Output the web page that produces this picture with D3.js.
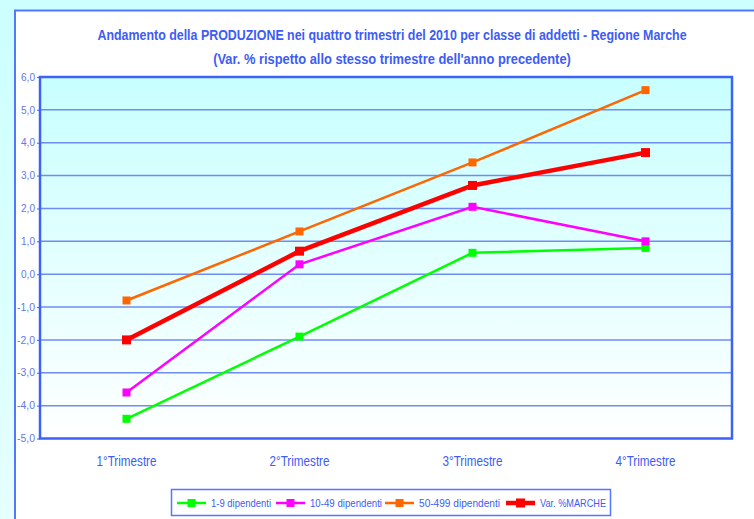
<!DOCTYPE html>
<meta charset="utf-8">
<style>
body { margin: 0; background: linear-gradient(#ccffff, #e6ffff); }
svg { display: block; }
text { font-family: "Liberation Sans", Arial, sans-serif; fill: #3d5cf5; }
.title { font-weight: bold; font-size: 14px; }
.ytick { font-size: 10px; fill: #6577e8; }
.xlab { font-size: 14.5px; }
.leg { font-size: 10.5px; }
</style>
<svg width="754" height="519"></svg>
<script src="https://d3js.org/d3.v7.min.js"></script>
<script>

var quarters = ["1°Trimestre", "2°Trimestre", "3°Trimestre", "4°Trimestre"];
var dip1_9 = [-4.4, -1.9, 0.65, 0.8];
var dip10_49 = [-3.6, 0.3, 2.05, 1.0];
var dip50_499 = [-0.8, 1.3, 3.4, 5.6];
var marche = [-2.0, 0.7, 2.7, 3.7];
var yTicks = [-5, -4, -3, -2, -1, 0, 1, 2, 3, 4, 5, 6];

var series = [
  { name: "1-9 dipendenti", values: dip1_9, color: "#00ff00", w: 2.5, m: 8, tw: 60 },
  { name: "10-49 dipendenti", values: dip10_49, color: "#ff00ff", w: 2.5, m: 8, tw: 72 },
  { name: "50-499 dipendenti", values: dip50_499, color: "#ff6600", w: 2.5, m: 8, tw: 81 },
  { name: "Var. %MARCHE", values: marche, color: "#ff0000", w: 4.5, m: 9, tw: 66 }
];

var svg = d3.select("svg");
var mLeft = 40, mRight = 732, mTop = 77, mBottom = 438.5;

// squeeze a text horizontally to a given width (narrow font look)
function squeeze(sel, cx, cy, w) {
  sel.attr("text-anchor", "middle");
  var natural = sel.node().getComputedTextLength();
  sel.attr("transform", "translate(" + cx + "," + cy + ") scale(" + (w / natural) + ",1)");
}

// outer white panel
svg.append("rect")
    .attr("x", 15).attr("y", 10.5)
    .attr("width", 760).attr("height", 530)
    .attr("fill", "#fff")
    .attr("stroke", "#5577ff").attr("stroke-width", 2);

svg.append("text").attr("class", "title")
    .text("Andamento della PRODUZIONE nei quattro trimestri del 2010 per classe di addetti - Regione Marche")
    .call(squeeze, 392, 40, 590);
svg.append("text").attr("class", "title")
    .text("(Var. % rispetto allo stesso trimestre dell'anno precedente)")
    .call(squeeze, 392, 64, 358);

var x = d3.scaleBand().domain(quarters).range([mLeft, mRight]);
var y = d3.scaleLinear().domain([-5, 6]).range([mBottom, mTop]);

var grad = svg.append("defs").append("linearGradient")
    .attr("id", "bg").attr("x1", 0).attr("y1", 0).attr("x2", 0).attr("y2", 1);
grad.append("stop").attr("offset", "0%").attr("stop-color", "#c8ffff");
grad.append("stop").attr("offset", "100%").attr("stop-color", "#ffffff");

svg.append("rect")
    .attr("x", mLeft).attr("y", mTop)
    .attr("width", mRight - mLeft).attr("height", mBottom - mTop)
    .attr("fill", "url(#bg)");

// gridlines
svg.append("g").selectAll("line")
  .data(yTicks.filter(function(d) { return d > -5 && d < 6; }))
  .join("line")
    .attr("x1", mLeft).attr("x2", mRight)
    .attr("y1", function(d) { return y(d); })
    .attr("y2", function(d) { return y(d); })
    .attr("stroke", "#6f8cf5").attr("stroke-width", 1.5);

svg.append("rect")
    .attr("x", mLeft).attr("y", mTop)
    .attr("width", mRight - mLeft).attr("height", mBottom - mTop)
    .attr("fill", "none")
    .attr("stroke", "#3d62f5").attr("stroke-width", 2.5);

// y axis
var yAxis = svg.append("g")
    .attr("transform", "translate(" + mLeft + ",0)")
    .call(d3.axisLeft(y).tickValues(yTicks).tickSize(3).tickPadding(2)
      .tickFormat(function(d) { return d3.format(".1f")(d).replace(".", ",").replace("−", "-"); }));
yAxis.select(".domain").remove();
yAxis.selectAll("line").attr("stroke", "#3d62f5");
yAxis.selectAll("text").attr("class", "ytick").attr("font-family", null).attr("font-size", null)
    .attr("textLength", function(d) { return d < 0 ? 18 : 14; })
    .attr("lengthAdjust", "spacingAndGlyphs");

// x labels
var xAxis = svg.append("g")
    .attr("transform", "translate(0," + mBottom + ")")
    .call(d3.axisBottom(x).tickSize(0).tickPadding(17));
xAxis.select(".domain").remove();
xAxis.selectAll("text").attr("class", "xlab").attr("font-family", null).attr("font-size", null)
    .attr("textLength", 60).attr("lengthAdjust", "spacingAndGlyphs");

var line = d3.line()
    .x(function(d, i) { return x(quarters[i]) + x.bandwidth() / 2; })
    .y(function(d) { return y(d); });

series.forEach(function(s) {
  var g = svg.append("g");
  g.append("path")
      .attr("d", line(s.values))
      .attr("fill", "none")
      .attr("stroke", s.color).attr("stroke-width", s.w);
  g.selectAll("rect")
    .data(s.values)
    .join("rect")
      .attr("x", function(d, i) { return x(quarters[i]) + x.bandwidth() / 2 - s.m / 2; })
      .attr("y", function(d) { return y(d) - s.m / 2; })
      .attr("width", s.m).attr("height", s.m)
      .attr("fill", s.color);
});

// legend
var legX = [177, 276, 385, 506];
var leg = svg.append("g");
leg.append("rect")
    .attr("x", 171.5).attr("y", 489.5).attr("width", 439).attr("height", 26)
    .attr("fill", "#fff").attr("stroke", "#5577ff").attr("stroke-width", 1.5);
series.forEach(function(s, i) {
  var lx = legX[i], ly = 503;
  leg.append("line")
      .attr("x1", lx).attr("x2", lx + 29).attr("y1", ly).attr("y2", ly)
      .attr("stroke", s.color).attr("stroke-width", s.w);
  leg.append("rect")
      .attr("x", lx + 14.5 - s.m / 2).attr("y", ly - s.m / 2)
      .attr("width", s.m).attr("height", s.m).attr("fill", s.color);
  leg.append("text").attr("class", "leg")
      .attr("x", lx + 34).attr("y", ly + 4)
      .attr("textLength", s.tw).attr("lengthAdjust", "spacingAndGlyphs")
      .text(s.name);
});

</script>
